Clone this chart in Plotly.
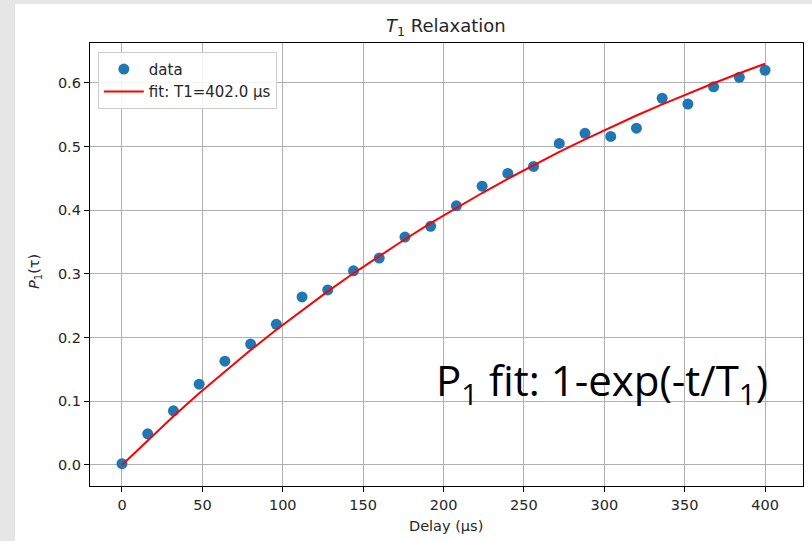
import numpy as np
import plotly.graph_objects as go

delay_us = [0, 16, 32, 48, 64, 80, 96, 112, 128, 144, 160, 176, 192, 208, 224,
            240, 256, 272, 288, 304, 320, 336, 352, 368, 384, 400]
p1_data = [0.002, 0.049, 0.085, 0.127, 0.163, 0.190, 0.221, 0.264, 0.275, 0.305,
           0.325, 0.358, 0.375, 0.407, 0.438, 0.458, 0.469, 0.505, 0.521, 0.516,
           0.529, 0.576, 0.567, 0.594, 0.609, 0.620]
T1_fit = 402.0
x_ticks = [0, 50, 100, 150, 200, 250, 300, 350, 400]
y_ticks = [0.0, 0.1, 0.2, 0.3, 0.4, 0.5, 0.6]

t = np.array(delay_us, dtype=float)
fit_vals = 1 - np.exp(-t / T1_fit)

W, H = 812, 541
L, R, T, B = 90, 9, 43, 55
PW, PH = W - L - R, H - T - B


def px(x):
    return (x - L) / PW


def py(y):
    return (H - B - y) / PH


fig = go.Figure()
fig.add_trace(go.Scatter(
    x=delay_us, y=p1_data, mode="markers", name="data",
    marker=dict(color="#1f77b4", size=11, line=dict(width=0)),
))
fig.add_trace(go.Scatter(
    x=t, y=fit_vals, mode="lines", name=f"fit: T1={T1_fit:.1f} µs",
    line=dict(color="red", width=2),
))

axis_common = dict(
    showgrid=True, gridcolor="#b0b0b0", gridwidth=1,
    showline=True, linecolor="black", linewidth=1.3, mirror=True,
    ticks="outside", ticklen=5, tickcolor="black", tickwidth=1,
    zeroline=False,
    tickfont=dict(family="DejaVu Sans", size=14.5, color="#262626"),
)

fig.update_layout(
    width=W, height=H,
    margin=dict(l=L, r=R, t=T, b=B),
    paper_bgcolor="#e6e6e6",
    plot_bgcolor="white",
    showlegend=True,
    legend=dict(
        x=0.011, y=0.98, xanchor="left", yanchor="top",
        bgcolor="rgba(255,255,255,0.85)", bordercolor="#cccccc", borderwidth=1,
        font=dict(family="DejaVu Sans", size=15, color="#262626"),
        tracegroupgap=0, itemwidth=40,
    ),
    xaxis=dict(axis_common, range=[-19.9, 423.6], tickvals=x_ticks,
               ticktext=[str(v) for v in x_ticks]),
    yaxis=dict(axis_common, range=[-0.033, 0.6628], tickvals=y_ticks,
               ticktext=[f"{v:.1f}" for v in y_ticks]),
    shapes=[
        dict(type="rect", xref="paper", yref="paper", layer="below",
             x0=px(15), x1=px(W), y0=py(H), y1=py(4),
             fillcolor="white", line=dict(width=0)),
    ],
    annotations=[
        dict(text="<i>T</i><sub>1</sub> Relaxation", xref="paper", yref="paper",
             x=px(446), y=py(27), xanchor="center", yanchor="middle",
             showarrow=False, font=dict(family="DejaVu Sans", size=18, color="#262626")),
        dict(text="Delay (µs)", xref="paper", yref="paper",
             x=px(446), y=py(526), xanchor="center", yanchor="middle",
             showarrow=False, font=dict(family="DejaVu Sans", size=14.5, color="#262626")),
        dict(text="<i>P</i><sub>1</sub>(τ)", xref="paper", yref="paper",
             x=px(35), y=py(272),
             xanchor="center", yanchor="middle", textangle=-90,
             showarrow=False, font=dict(family="DejaVu Sans", size=14.5, color="#262626")),
        dict(text="P<sub>1</sub> fit: 1-exp(-t/T<sub>1</sub>)", xref="paper", yref="paper",
             x=px(770), y=py(382), xanchor="right", yanchor="middle",
             showarrow=False, font=dict(family="Open Sans", size=42, color="black")),
    ],
)

fig.write_html(
    "out.html",
    config={"displayModeBar": False},
    post_script="document.body.style.margin='0';document.body.style.overflow='hidden';",
)
